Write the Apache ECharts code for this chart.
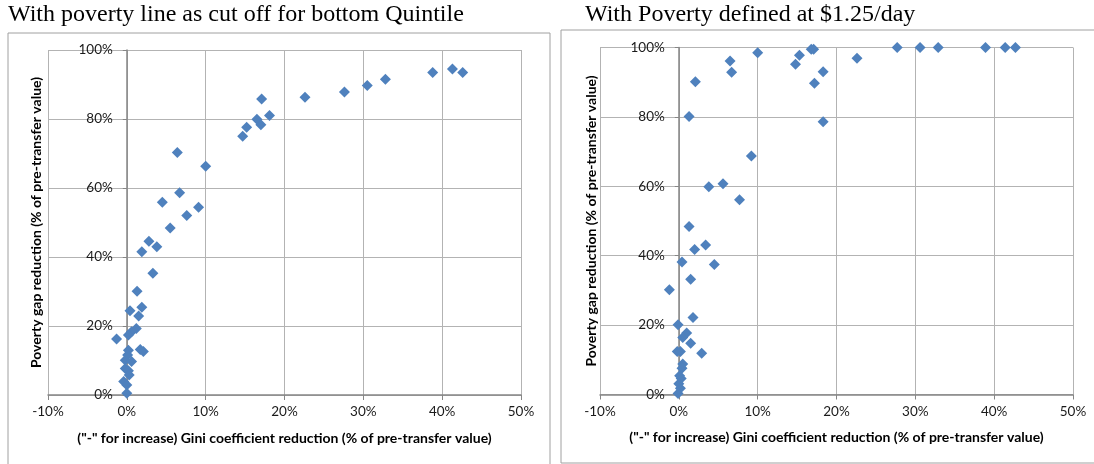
<!DOCTYPE html>
<html>
<head>
<meta charset="utf-8">
<script src="https://cdn.jsdelivr.net/npm/echarts@6.0.0/dist/echarts.min.js"></script>
<style>
  html, body { margin: 0; padding: 0; background: #fff; }
  #chart { width: 1094px; height: 464px; }
</style>
</head>
<body>
<div id="chart"></div>
<script>
// left panel: poverty line as cut off for bottom quintile
var quintileGini = [38.8, 41.3, 42.6, 32.8, 30.5, 27.6, 22.6, 17.1, 18.1, 16.5, 17.0, 15.2, 14.7, 6.4, 10.0,
  6.7, 4.5, 9.1, 7.6, 5.5, 2.8, 3.8, 1.9, 3.3, 1.3, 1.9, 0.4, 1.5, 1.2, 0.6, 0.2, -1.3, 0.2, 1.7, 2.1,
  0.1, -0.2, 0.6, -0.2, 0.2, 0.3, -0.4, 0.0, 0.0]
var quintileGap = [93.5, 94.5, 93.5, 91.5, 89.7, 87.8, 86.3, 85.8, 81.0, 79.9, 78.3, 77.6, 75.0, 70.3, 66.3,
  58.6, 55.9, 54.4, 52.0, 48.4, 44.6, 43.0, 41.5, 35.3, 30.1, 25.4, 24.4, 22.9, 19.3, 18.3, 17.4, 16.2, 13.0, 13.2, 12.6,
  11.6, 10.1, 9.7, 7.7, 7.0, 5.8, 3.9, 2.9, 0.5]

// right panel: poverty defined at $1.25/day
var dollarGini = [27.7, 30.6, 32.9, 38.9, 41.4, 42.7, 22.6, 16.8, 17.1, 15.3, 14.8, 18.3, 17.2, 18.3, 10.0,
  6.5, 6.7, 2.1, 1.3, 9.2, 3.8, 5.6, 7.7, 1.3, 3.4, 2.0, 0.4, 4.5, 1.5, -1.2, 1.8, -0.1, 1.0, 0.5,
  1.5, 2.9, -0.2, 0.2, 0.5, 0.4, 0.1, 0.3, 0.0, 0.2, -0.1]
var dollarGap = [100, 100, 100, 100, 100, 100, 96.9, 99.5, 99.5, 97.8, 95.2, 93.0, 89.7, 78.6, 98.5,
  96.1, 92.9, 90.1, 80.1, 68.7, 59.9, 60.7, 56.1, 48.4, 43.1, 41.8, 38.2, 37.5, 33.2, 30.2, 22.2, 20.1, 17.7, 16.4,
  14.8, 11.9, 12.4, 12.4, 8.8, 7.6, 5.4, 4.6, 3.1, 1.8, 0.3]

var titles = ['With poverty line as cut off for bottom Quintile', 'With Poverty defined at $1.25/day']
var xName = '("-" for increase) Gini coefficient reduction (% of pre-transfer value)'
var yName = 'Poverty gap reduction (% of pre-transfer value)'

function pairs(xs, ys) {
  var out = []
  for (var i = 0; i < xs.length; i++) out.push([xs[i], ys[i]])
  return out
}

var tickFont = 'Lato, "Open Sans", sans-serif'

function makeX(idx) {
  return {
    gridIndex: idx,
    type: 'value',
    min: -10, max: 50, interval: 10,
    name: xName,
    nameLocation: 'middle',
    nameGap: 36,
    nameTextStyle: { fontFamily: tickFont, fontWeight: 'bold', fontSize: 14, color: '#000' },
    axisLine: { onZero: false, lineStyle: { color: '#868686', width: 1.5 } },
    axisTick: { show: true, length: 5, lineStyle: { color: '#868686' } },
    axisLabel: { formatter: '{value}%', margin: 10, fontFamily: tickFont, fontSize: 13.5, color: '#1a1a1a' },
    splitLine: { show: true, lineStyle: { color: '#b3b3b3', width: 1 } }
  }
}

// y axis sits on x = 0, i.e. one 10% step inside the plot
function makeY(idx, gap) {
  return {
    gridIndex: idx,
    type: 'value',
    min: 0, max: 100, interval: 20,
    offset: -78.8,
    name: yName,
    nameLocation: 'middle',
    nameGap: gap,
    nameTextStyle: { fontFamily: tickFont, fontWeight: 'bold', fontSize: 14, color: '#000' },
    axisLine: { show: true, onZero: false, lineStyle: { color: '#868686', width: 1.5 } },
    axisTick: { show: true, length: 4, lineStyle: { color: '#868686' } },
    axisLabel: { formatter: '{value}%', margin: 14, fontFamily: tickFont, fontSize: 13.5, color: '#1a1a1a' },
    splitLine: { show: true, lineStyle: { color: '#b3b3b3', width: 1 } }
  }
}

var myChart = echarts.init(document.getElementById('chart'))
myChart.setOption({
  animation: false,
  grid: [
    { left: 48, top: 50, width: 473, height: 345, containLabel: false, outerBoundsMode: 'none' },
    { left: 600, top: 47.5, width: 473, height: 347, containLabel: false, outerBoundsMode: 'none' }
  ],
  xAxis: [makeX(0), makeX(1)],
  yAxis: [makeY(0, 83), makeY(1, 80)],
  graphic: [
    { type: 'rect', z: -10, shape: { x: 8, y: 33, width: 542, height: 440 },
      style: { fill: 'none', stroke: '#a0a0a0', lineWidth: 1 }, silent: true },
    { type: 'rect', z: -10, shape: { x: 561, y: 30, width: 560, height: 433 },
      style: { fill: 'none', stroke: '#a0a0a0', lineWidth: 1 }, silent: true },
    { type: 'text', left: 8, top: 3,
      style: { text: titles[0], font: '24px "Liberation Serif", "DejaVu Serif", serif', fill: '#000' } },
    { type: 'text', left: 585, top: 3,
      style: { text: titles[1], font: '24px "Liberation Serif", "DejaVu Serif", serif', fill: '#000' } }
  ],
  series: [
    {
      type: 'scatter', xAxisIndex: 0, yAxisIndex: 0,
      symbol: 'diamond', symbolSize: 11,
      itemStyle: { color: '#4f81bd', opacity: 1 },
      data: pairs(quintileGini, quintileGap)
    },
    {
      type: 'scatter', xAxisIndex: 1, yAxisIndex: 1,
      symbol: 'diamond', symbolSize: 11,
      itemStyle: { color: '#4f81bd', opacity: 1 },
      data: pairs(dollarGini, dollarGap)
    }
  ]
})
</script>
</body>
</html>
